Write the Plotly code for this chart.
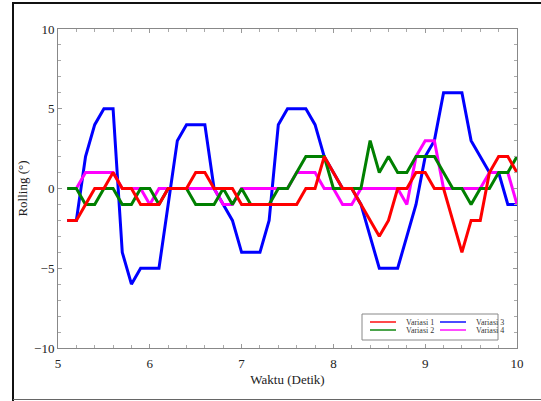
import plotly.graph_objects as go

time = [round(5.1 + 0.1 * i, 1) for i in range(50)]

variasi_1 = [-2, -2, -1, 0, 0, 1, 0, 0, -1, -1,
             -1, 0, 0, 0, 1, 1, 0, 0, 0, -1,
             -1, -1, -1, -1, -1, -1, 0, 0, 2, 1,
             0, 0, -1, -2, -3, -2, 0, 0, 1, 1,
             0, 0, -2, -4, -2, -2, 1, 2, 2, 1]
variasi_2 = [0, 0, -1, -1, 0, 0, -1, -1, 0, 0,
             -1, 0, 0, 0, -1, -1, -1, 0, -1, 0,
             -1, -1, -1, 0, 0, 1, 2, 2, 2, 0,
             0, 0, 0, 3, 1, 2, 1, 1, 2, 2,
             2, 1, 0, 0, -1, 0, 0, 1, 1, 2]
variasi_3 = [-2, -2, 2, 4, 5, 5, -4, -6, -5, -5,
             -5, -1, 3, 4, 4, 4, 0, -1, -2, -4,
             -4, -4, -2, 4, 5, 5, 5, 4, 2, 1,
             0, 0, -1, -3, -5, -5, -5, -3, -1, 2,
             3, 6, 6, 6, 3, 2, 1, 1, -1, -1]
variasi_4 = [0, 0, 1, 1, 1, 1, 0, 0, 0, -1,
             0, 0, 0, 0, 0, 0, 0, -1, -1, 0,
             0, 0, 0, 0, 0, 1, 1, 1, 0, 0,
             -1, -1, 0, 0, 0, 0, 0, -1, 2, 3,
             3, 0, 0, 0, 0, 0, 1, 1, 1, -1]

series = [("Variasi 1", variasi_1, "#ff0000"),
          ("Variasi 2", variasi_2, "#008000"),
          ("Variasi 3", variasi_3, "#0000ff"),
          ("Variasi 4", variasi_4, "#ff00ff")]

fig = go.Figure()
for name, vals, col in [series[2], series[3], series[1], series[0]]:
    fig.add_trace(go.Scatter(x=time, y=vals, mode="lines", name=name,
                             line=dict(color=col, width=3), showlegend=False))

W, H = 541, 401
L, R, T, B = 58, 24, 29, 53
pw, ph = W - L - R, H - T - B

def px(x):
    return (x - L) / pw

def py(y):
    return (H - B - y) / ph

shapes = []
# outer frame
shapes.append(dict(type="line", xref="paper", yref="paper", x0=px(13), x1=px(541), y0=py(3), y1=py(3),
                   line=dict(color="#111111", width=2)))
shapes.append(dict(type="line", xref="paper", yref="paper", x0=px(13), x1=px(13), y0=py(2), y1=py(401),
                   line=dict(color="#111111", width=2)))
shapes.append(dict(type="line", xref="paper", yref="paper", x0=px(13), x1=px(541), y0=py(399.5), y1=py(399.5),
                   line=dict(color="#666666", width=1)))
# legend box
shapes.append(dict(type="rect", xref="paper", yref="paper", x0=px(362), x1=px(498), y0=py(340), y1=py(314),
                   fillcolor="white", line=dict(color="#888888", width=1), layer="above"))
annotations = []
legend_pos = [("Variasi 1", "#ff0000", 370, 322), ("Variasi 2", "#008000", 370, 330),
              ("Variasi 3", "#0000ff", 440, 322), ("Variasi 4", "#ff00ff", 440, 330)]
for name, col, lx, ly in legend_pos:
    shapes.append(dict(type="line", xref="paper", yref="paper", x0=px(lx), x1=px(lx + 26),
                       y0=py(ly), y1=py(ly), line=dict(color=col, width=2), layer="above", opacity=0.7))
    annotations.append(dict(xref="paper", yref="paper", x=px(lx + 34), y=py(ly), text=name,
                            showarrow=False, xanchor="left", yanchor="middle",
                            font=dict(family="Liberation Serif", size=8, color="#333333")))

axis_common = dict(showgrid=False, zeroline=False, showline=True, linecolor="#888888", linewidth=1,
                   mirror="ticks", ticks="inside", ticklen=4, tickcolor="#999999",
                   tickfont=dict(family="Liberation Serif", size=13, color="#222222"))

fig.update_layout(
    width=W, height=H,
    margin=dict(l=L, r=R, t=T, b=B),
    paper_bgcolor="white", plot_bgcolor="white",
    shapes=shapes, annotations=annotations,
    xaxis=dict(range=[5, 10], tickvals=[5, 6, 7, 8, 9, 10], ticklabelstandoff=3,
               minor=dict(dtick=0.2, ticks="inside", ticklen=3, tickcolor="#aaaaaa"),
               title=dict(text="Waktu (Detik)", font=dict(family="Liberation Serif", size=13, color="#222222"),
                          standoff=5),
               **axis_common),
    yaxis=dict(range=[-10, 10], tickvals=[-10, -5, 0, 5, 10],
               minor=dict(dtick=1, ticks="inside", ticklen=3, tickcolor="#aaaaaa"),
               title=dict(text="Rolling (°)", font=dict(family="Liberation Serif", size=13, color="#222222"),
                          standoff=3),
               **axis_common),
)

fig.write_html("out.html")
